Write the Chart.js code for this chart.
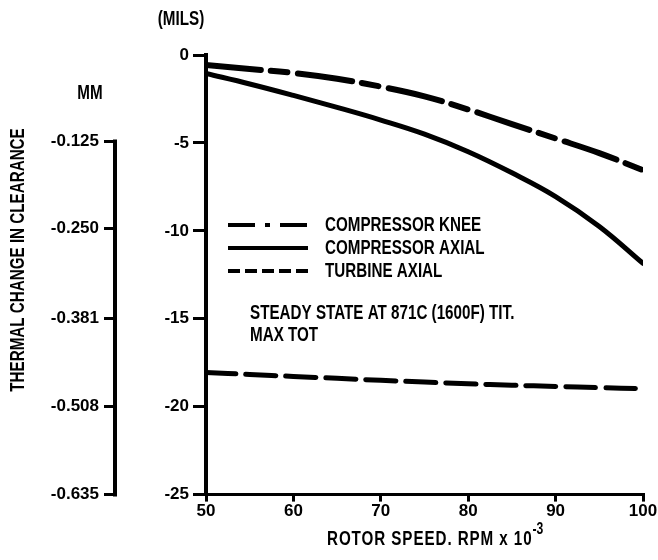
<!DOCTYPE html>
<html>
<head>
<meta charset="utf-8">
<script src="https://cdn.jsdelivr.net/npm/chart.js@4"></script>
<style>
  html, body { margin: 0; padding: 0; background: #fff; }
  #wrap { width: 658px; height: 560px; }
</style>
</head>
<body>
<div id="wrap"><canvas id="clearance"></canvas></div>
<script>
const FONT = "'Liberation Sans', Arial, sans-serif";

// data (mils vs rotor speed x 1000 rpm)
const rpm = [50, 55, 60, 65, 70, 75, 80, 85, 90, 95, 100];
const kneeMils = [-0.57, -0.8, -1.02, -1.35, -1.8, -2.35, -3.1, -3.93, -4.75, -5.58, -6.55];
const axialMils = [-1.05, -1.65, -2.3, -2.98, -3.7, -4.5, -5.5, -6.7, -8.05, -9.75, -11.85];
const turbineMils = [-18.05, -18.17, -18.28, -18.39, -18.5, -18.6, -18.7, -18.78, -18.85, -18.92, -18.98];

const seriesNames = ["COMPRESSOR KNEE", "COMPRESSOR AXIAL", "TURBINE AXIAL"];
const rpmTicks = [50, 60, 70, 80, 90, 100];
const milsTicks = [0, -5, -10, -15, -20, -25];
const mmTicks = [-0.125, -0.250, -0.381, -0.508, -0.635];
const mmLabels = ["-0.125", "-0.250", "-0.381", "-0.508", "-0.635"];

function pts(ys) {
  return rpm.map((x, i) => ({ x: x, y: ys[i] }));
}

// legend sample dashes are shorter than the plotted ones
const legendDash = [[27, 10, 5, 10], [], [12, 5]];

// squeezed bold text, the original lettering is a condensed face
function narrowText(ctx, text, x, y, align, size, spacing) {
  ctx.save();
  ctx.font = "bold " + (size || 20) + "px " + FONT;
  ctx.letterSpacing = (spacing || 0) + "px";
  ctx.textBaseline = "middle";
  ctx.textAlign = align || "left";
  ctx.translate(x, y);
  ctx.scale(0.76, 1);
  ctx.fillText(text, 0, 0);
  const w = ctx.measureText(text).width * 0.76;
  ctx.restore();
  return w;
}

const annotations = {
  id: "annotations",
  afterDraw(chart) {
    const ctx = chart.ctx;
    const mm = chart.scales.mm;
    ctx.save();
    ctx.fillStyle = "#000";
    ctx.strokeStyle = "#000";

    // mm axis line only spans its labelled ticks
    ctx.lineWidth = 4;
    ctx.beginPath();
    ctx.moveTo(mm.right - 2, mm.getPixelForValue(mmTicks[0]) - 2);
    ctx.lineTo(mm.right - 2, mm.getPixelForValue(mmTicks[mmTicks.length - 1]) + 2);
    ctx.stroke();

    narrowText(ctx, "(MILS)", 181, 19, "center");
    narrowText(ctx, "MM", 90, 93, "center");

    ctx.save();
    ctx.translate(18, 260);
    ctx.rotate(-Math.PI / 2);
    narrowText(ctx, "THERMAL CHANGE IN CLEARANCE", 0, 0, "center");
    ctx.restore();

    // x title with superscript
    const x0 = 327;
    const w = narrowText(ctx, "ROTOR SPEED. RPM x 10", x0, 539, "left", 20, 1.2);
    narrowText(ctx, "-3", x0 + w, 530, "left", 16);

    // legend
    const rows = [225, 248, 271];
    chart.data.datasets.forEach((ds, i) => {
      ctx.lineWidth = 4;
      ctx.setLineDash(legendDash[i]);
      ctx.beginPath();
      ctx.moveTo(228, rows[i]);
      ctx.lineTo(308, rows[i]);
      ctx.stroke();
      ctx.setLineDash([]);
      narrowText(ctx, ds.label, 325, rows[i], "left");
    });

    narrowText(ctx, "STEADY STATE AT 871C (1600F) TIT.", 250, 313, "left");
    narrowText(ctx, "MAX TOT", 250, 335, "left");
    ctx.restore();
  }
};

const tickFont = { family: FONT, size: 17, weight: "bold" };

new Chart(document.getElementById("clearance"), {
  type: "line",
  data: {
    datasets: [
      { label: seriesNames[0], data: pts(kneeMils), borderDash: [55, 10, 17, 10], borderWidth: 6 },
      { label: seriesNames[1], data: pts(axialMils), borderWidth: 5 },
      { label: seriesNames[2], data: pts(turbineMils), borderDash: [30, 10], borderWidth: 5 }
    ].map(d => Object.assign({ borderColor: "#000", pointRadius: 0, tension: 0.4, fill: false, borderCapStyle: "round" }, d))
  },
  options: {
    responsive: true,
    maintainAspectRatio: false,
    animation: false,
    layout: { padding: { top: 55, right: 15, bottom: 38, left: 0 } },
    plugins: { legend: { display: false }, tooltip: { enabled: false } },
    scales: {
      x: {
        type: "linear",
        min: 50, max: 100,
        afterBuildTicks: s => { s.ticks = rpmTicks.map(v => ({ value: v })); },
        border: { display: true, color: "#000", width: 3 },
        grid: { display: true, drawOnChartArea: false, drawTicks: true, tickLength: 7, color: "#000", lineWidth: 3 },
        ticks: { color: "#000", font: tickFont, padding: 0, maxRotation: 0 }
      },
      y: {
        type: "linear",
        position: "left",
        weight: 0,
        min: -25, max: 0,
        afterBuildTicks: s => { s.ticks = milsTicks.map(v => ({ value: v })); },
        afterFit: s => { s.width = 89; },
        border: { display: true, color: "#000", width: 4 },
        grid: { display: true, drawOnChartArea: false, drawTicks: true, tickLength: 13, color: "#000", lineWidth: 3 },
        ticks: { color: "#000", font: tickFont, padding: 4 }
      },
      mm: {
        type: "linear",
        position: "left",
        weight: 1,
        min: -0.635, max: 0,
        afterBuildTicks: s => { s.ticks = mmTicks.map(v => ({ value: v })); },
        afterFit: s => { s.width = 117; },
        border: { display: false },
        grid: { display: true, drawOnChartArea: false, drawTicks: true, tickLength: 13, color: "#000", lineWidth: 3 },
        ticks: {
          color: "#000", font: tickFont, padding: 5,
          callback: (v, i) => mmLabels[i]
        }
      }
    }
  },
  plugins: [annotations]
});
</script>
</body>
</html>
